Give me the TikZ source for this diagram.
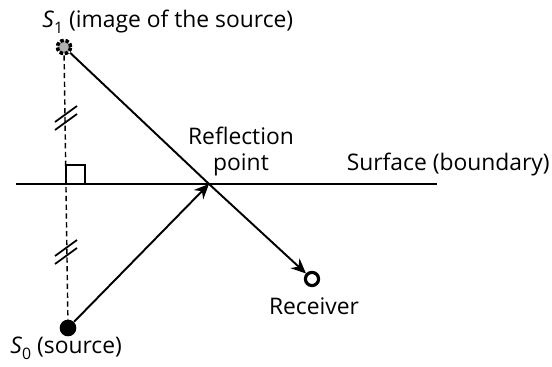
\documentclass[tikz,border=0pt]{standalone}
\usepackage{fontspec}
\setmainfont{Open Sans}
\usetikzlibrary{arrows.meta}
\newcommand\srcS[1]{\textit{S}\raisebox{-.45ex}{\small#1}}
\tikzset{
  lbl/.style={font=\fontsize{13}{14.5}\selectfont,inner sep=0pt},
  ray/.style={line width=1.1pt,-{Stealth[length=8.5pt,width=7.5pt]}},
}
\begin{document}
\begin{tikzpicture}[x=.02cm,y=-.02cm]
\useasboundingbox (0,0) rectangle (552,367);
\node[circle,draw,densely dotted,line width=2pt,fill=gray!60,minimum size=7.5pt,inner sep=0pt] (S1) at (64,47){};
\node[circle,fill,minimum size=9.5pt,inner sep=0pt] (S0) at (68,328){};
\node[circle,draw,line width=1.8pt,minimum size=7.5pt,inner sep=0pt] (rec) at (312,279){};
\coordinate (refl) at (209,184);
\coordinate (sL) at (16,184); \coordinate (sR) at (437,184);
\draw[line width=1.1pt] (sL)--(sR);
\draw[densely dashed,line width=.8pt] (S1)--(S0);
% right angle mark
\draw[line width=.8pt] (66,184) rectangle (85,165);
\draw[ray] (S0)--(refl);
\draw[line width=1.1pt] (S1)--(refl);
\draw[ray] (refl)--(rec);
% equal distance ticks
\foreach \c in {118,252}
  \foreach \d in {-4,4} \draw[line width=1pt] (55,\c+\d+8)--(77,\c+\d-8);
\node[lbl,anchor=base west] (tS1) at (42,28) {\srcS{1} (image of the source)};
\node[lbl,align=center,anchor=north] (tRefl) at (241,127) {Reflection\\point};
\node[lbl,anchor=base east] (tSurf) at (550,171) {Surface (boundary)};
\node[lbl,anchor=base] (tRec) at (314,315) {Receiver};
\node[lbl,anchor=base west] (tS0) at (10,354) {\srcS{0} (source)};
\end{tikzpicture}
\end{document}
